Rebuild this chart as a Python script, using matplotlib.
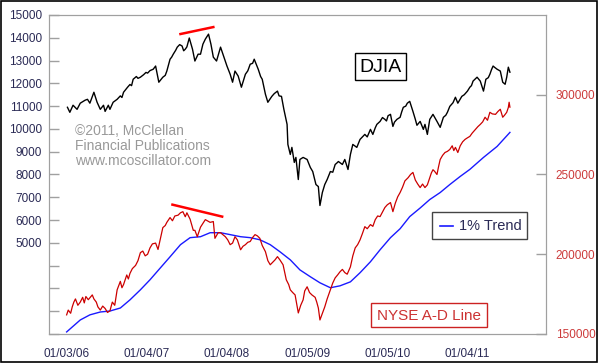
import numpy as np
import matplotlib.pyplot as plt
from matplotlib.patches import Rectangle
from matplotlib.lines import Line2D

plt.rcParams['font.family'] = ['Liberation Sans', 'DejaVu Sans']

# DJIA (decimal year, close)
djia_t = [2006.02, 2006.05, 2006.09, 2006.14, 2006.18, 2006.24, 2006.27, 2006.30, 2006.35, 2006.39,
          2006.43, 2006.47, 2006.49, 2006.53, 2006.55, 2006.59, 2006.64, 2006.68, 2006.70, 2006.72,
          2006.77, 2006.80, 2006.82, 2006.84, 2006.88, 2006.90, 2006.93, 2006.97, 2007.00, 2007.02,
          2007.05, 2007.09, 2007.12, 2007.16, 2007.21, 2007.24, 2007.26, 2007.30, 2007.32, 2007.34,
          2007.37, 2007.39, 2007.42, 2007.45, 2007.47, 2007.49, 2007.51, 2007.54, 2007.58, 2007.61,
          2007.65, 2007.68, 2007.71, 2007.74, 2007.78, 2007.81, 2007.84, 2007.88, 2007.93, 2007.96,
          2008.01, 2008.05, 2008.08, 2008.11, 2008.15, 2008.19, 2008.24, 2008.27, 2008.30, 2008.33,
          2008.35, 2008.40, 2008.43, 2008.45, 2008.49, 2008.52, 2008.57, 2008.60, 2008.64, 2008.66,
          2008.69, 2008.72, 2008.76, 2008.77, 2008.80, 2008.82, 2008.85, 2008.87, 2008.90, 2008.92,
          2008.96, 2009.01, 2009.05, 2009.08, 2009.12, 2009.15, 2009.17, 2009.20, 2009.23, 2009.26,
          2009.30, 2009.33, 2009.36, 2009.38, 2009.40, 2009.45, 2009.48, 2009.52, 2009.55, 2009.58,
          2009.63, 2009.67, 2009.73, 2009.76, 2009.80, 2009.83, 2009.86, 2009.88, 2009.92, 2009.95,
          2009.98, 2010.00, 2010.02, 2010.05, 2010.08, 2010.10, 2010.13, 2010.17, 2010.19, 2010.21,
          2010.24, 2010.26, 2010.29, 2010.33, 2010.36, 2010.38, 2010.42, 2010.46, 2010.48, 2010.51,
          2010.54, 2010.58, 2010.63, 2010.67, 2010.71, 2010.74, 2010.76, 2010.79, 2010.83, 2010.86,
          2010.89, 2010.91, 2010.94, 2010.97, 2011.01, 2011.04, 2011.06, 2011.08, 2011.11, 2011.13,
          2011.17, 2011.21, 2011.24, 2011.27, 2011.29, 2011.31, 2011.33, 2011.35, 2011.38, 2011.42,
          2011.45, 2011.48, 2011.50, 2011.52, 2011.54]
djia = [10950, 10730, 11040, 10860, 11130, 11260, 11300, 11130, 11610, 11170,
        10860, 11040, 10770, 11040, 10860, 11170, 11300, 11450, 11380, 11610,
        11830, 11950, 11900, 12180, 12300, 12220, 12270, 12380, 12480, 12450,
        12560, 12620, 12760, 12050, 12270, 12350, 12540, 13060, 13150, 13280,
        13450, 13590, 13700, 13640, 13430, 13500, 13600, 13990, 13500, 12980,
        13280, 13280, 13720, 13940, 14160, 13720, 13150, 12980, 13590, 13280,
        12760, 12400, 12050, 12540, 12320, 11830, 12400, 12550, 12840, 12880,
        13060, 12620, 12300, 12180, 11520, 11170, 11430, 11550, 11660, 11450,
        11430, 10860, 10200, 9320, 8880, 9190, 8530, 8750, 7780, 8660,
        8750, 8660, 8310, 8130, 7560, 7470, 6640, 7210, 7560, 7780,
        8130, 8100, 8440, 8500, 8570, 8440, 8660, 8220, 8880, 9320,
        9190, 9540, 9760, 9650, 9980, 9760, 10050, 10200, 10330, 10500,
        10420, 10350, 10580, 10640, 10110, 10300, 10420, 10510, 10750, 10950,
        11000, 11130, 11210, 10770, 10420, 10160, 10330, 9980, 10200, 9760,
        10420, 10640, 10330, 10070, 10510, 10600, 10730, 10990, 11150, 11390,
        11130, 11250, 11430, 11500, 11660, 11830, 11900, 12100, 12200, 12270,
        12100, 11660, 12180, 12250, 12400, 12600, 12760, 12700, 12620, 12540,
        12050, 11960, 12270, 12710, 12490]

# NYSE A-D line
ad_t = [2006.01, 2006.03, 2006.06, 2006.08, 2006.10, 2006.12, 2006.15, 2006.18, 2006.21, 2006.23,
        2006.25, 2006.28, 2006.33, 2006.35, 2006.38, 2006.40, 2006.43, 2006.46, 2006.49, 2006.52,
        2006.55, 2006.58, 2006.61, 2006.64, 2006.68, 2006.70, 2006.72, 2006.76, 2006.78, 2006.80,
        2006.83, 2006.87, 2006.90, 2006.93, 2006.96, 2006.99, 2007.02, 2007.05, 2007.08, 2007.12,
        2007.15, 2007.18, 2007.21, 2007.24, 2007.26, 2007.30, 2007.33, 2007.36, 2007.40, 2007.43,
        2007.46, 2007.49, 2007.51, 2007.55, 2007.59, 2007.61, 2007.64, 2007.68, 2007.74, 2007.80,
        2007.84, 2007.86, 2007.90, 2007.93, 2007.99, 2008.02, 2008.05, 2008.08, 2008.11, 2008.14,
        2008.18, 2008.21, 2008.24, 2008.27, 2008.30, 2008.33, 2008.36, 2008.39, 2008.42, 2008.45,
        2008.49, 2008.52, 2008.55, 2008.58, 2008.61, 2008.64, 2008.67, 2008.71, 2008.75, 2008.78,
        2008.80, 2008.83, 2008.86, 2008.90, 2008.93, 2008.96, 2008.98, 2009.01, 2009.04, 2009.07,
        2009.11, 2009.13, 2009.15, 2009.17, 2009.20, 2009.23, 2009.26, 2009.30, 2009.33, 2009.36,
        2009.39, 2009.42, 2009.45, 2009.48, 2009.51, 2009.55, 2009.58, 2009.61, 2009.64, 2009.67,
        2009.70, 2009.73, 2009.76, 2009.80, 2009.83, 2009.86, 2009.89, 2009.92, 2009.95, 2009.98,
        2010.01, 2010.05, 2010.08, 2010.11, 2010.14, 2010.17, 2010.20, 2010.23, 2010.27, 2010.30,
        2010.33, 2010.36, 2010.39, 2010.42, 2010.45, 2010.48, 2010.51, 2010.54, 2010.56, 2010.58,
        2010.60, 2010.63, 2010.65, 2010.67, 2010.70, 2010.73, 2010.76, 2010.79, 2010.82, 2010.84,
        2010.86, 2010.89, 2010.92, 2010.95, 2010.98, 2011.01, 2011.04, 2011.07, 2011.11, 2011.14,
        2011.17, 2011.20, 2011.23, 2011.26, 2011.29, 2011.32, 2011.36, 2011.39, 2011.42, 2011.45,
        2011.47, 2011.50, 2011.52, 2011.53, 2011.54]
ad = [162000, 165000, 163000, 167000, 170000, 172000, 168000, 170000, 173000, 169500,
      173500, 171500, 174500, 172000, 170000, 167000, 165000, 167500, 166000, 163500,
      164500, 170000, 168000, 177700, 183000, 179000, 181000, 187000, 184500, 188000,
      191000, 193000, 196000, 201000, 202000, 199000, 200000, 204000, 206500, 207000,
      203000, 210000, 216700, 218000, 220000, 223000, 221000, 224000, 224500, 226000,
      226700, 223500, 226000, 222000, 215000, 215000, 211000, 217000, 221700, 220000,
      220500, 210000, 213500, 213500, 211000, 209000, 206000, 207000, 211000, 209000,
      202800, 205000, 206000, 207500, 208000, 210500, 212300, 211500, 210000, 205500,
      201600, 196000, 193400, 195000, 196500, 198500, 196500, 193400, 184000, 181000,
      177700, 176000, 174500, 163200, 168000, 171400, 177000, 179600, 176000, 174500,
      173000, 170000, 166300, 158800, 163000, 167000, 172000, 177700, 182000, 185200,
      187000, 189000, 190500, 188500, 187500, 192100, 199000, 204000, 206000, 209000,
      213000, 217300, 216000, 218600, 217500, 221700, 224000, 223600, 226500, 229300,
      231000, 232400, 226700, 232000, 236000, 238700, 242000, 246000, 248000, 250000,
      251300, 246500, 244000, 241800, 244000, 241800, 243500, 248000, 251000, 253000,
      252000, 250000, 255000, 259400, 262000, 263800, 264500, 265700, 268000, 265000,
      267000, 263800, 268000, 270500, 272000, 273000, 273900, 276000, 278300, 280000,
      281400, 283000, 285900, 284000, 289000, 288000, 287700, 289500, 290900, 285900,
      287000, 289000, 292000, 295300, 292200]

# 1% trend of the A-D line
trend_t = [2006.01, 2006.18, 2006.30, 2006.43, 2006.55, 2006.68, 2006.80, 2006.93, 2007.05, 2007.18,
           2007.30, 2007.43, 2007.55, 2007.68, 2007.80, 2007.93, 2008.05, 2008.18, 2008.30, 2008.42,
           2008.55, 2008.67, 2008.80, 2008.92, 2009.05, 2009.17, 2009.30, 2009.42, 2009.55, 2009.67,
           2009.80, 2009.92, 2010.05, 2010.17, 2010.29, 2010.42, 2010.54, 2010.67, 2010.79, 2010.92,
           2011.04, 2011.21, 2011.38, 2011.54]
trend = [151300, 158800, 162000, 163800, 164400, 166300, 171400, 177700, 184000, 191500,
         198400, 206000, 210400, 211000, 213500, 213500, 212300, 211000, 210400, 209100,
         206000, 201600, 196500, 190200, 185900, 182100, 179000, 180200, 182700, 188400,
         195300, 202800, 210400, 216000, 223600, 229000, 234300, 238700, 243700, 248800,
         253200, 260700, 267600, 276400]

# divergence lines
djia_div_t = [2007.43, 2007.84]
djia_div = [14165, 14470]
ad_div_t = [2007.33, 2007.95]
ad_div = [231100, 223600]

tick_t = [2006.005, 2007.008, 2008.008, 2009.011, 2010.011, 2011.008]
tick_lab = ['01/03/06', '01/04/07', '01/04/08', '01/05/09', '01/05/10', '01/04/11']

navy = '#2a2a55'
grey = '#a0a0a0'

fig = plt.figure(figsize=(6, 3.64), dpi=100)
ax = fig.add_axes([49/600, 30/364, 497/600, 319/364])
ax2 = ax.twinx()

ax.plot(djia_t, djia, color='black', lw=1.0)
ax.plot(djia_div_t, djia_div, color='#ff0000', lw=1.8)
ax2.plot(trend_t, trend, color='#1a1aff', lw=1.0)
ax2.plot(ad_t, ad, color='#cc0000', lw=0.9)
ax2.plot(ad_div_t, ad_div, color='#ff0000', lw=1.8)

ax.set_xlim(2005.79, 2011.99)
ax.set_ylim(1000, 15000)
ax2.set_ylim(150000, 350000)

ax.set_yticks(np.arange(1000, 15001, 1000))
ax.set_yticklabels([str(v) if v >= 5000 else '' for v in range(1000, 15001, 1000)])
ax2.set_yticks([150000, 200000, 250000, 300000])
ax2.set_yticklabels(['150000', '200000', '250000', '300000'])
ax.set_xticks(tick_t)
ax.set_xticklabels(tick_lab)

ax.tick_params(axis='y', direction='in', length=7, width=1, color=grey,
               labelcolor=navy, labelsize=8.5, pad=5)
ax2.tick_params(axis='y', direction='in', length=7, width=1, color=grey,
                labelcolor='#cc3a3a', labelsize=8.5, pad=7)
ax.tick_params(axis='x', length=0, labelcolor=navy, labelsize=8.5, pad=10)

for a in (ax, ax2):
    for s in a.spines.values():
        s.set_color(grey)

def fx(px):
    return px / 600

def fy(py):
    return 1 - py / 364

fig.text(fx(75), fy(124), '©2011, McClellan\nFinancial Publications\nwww.mcoscillator.com',
         color='#999999', fontsize=10, va='top', ha='left', linespacing=1.1)

# DJIA label box
fig.add_artist(Rectangle((fx(355), fy(80)), fx(51), 27/364, transform=fig.transFigure,
                         facecolor='white', edgecolor='black', lw=1))
fig.text(fx(380.5), fy(67), 'DJIA', fontsize=14, ha='center', va='center', color='black')

# 1% Trend legend box
fig.add_artist(Rectangle((fx(432), fy(239)), fx(95), 27/364, transform=fig.transFigure,
                         facecolor='white', edgecolor='#444444', lw=1))
fig.add_artist(Line2D([fx(440), fx(453)], [fy(226), fy(226)], transform=fig.transFigure,
                      color='#1a1aff', lw=1.2))
fig.text(fx(459), fy(226), '1% Trend', fontsize=10.5, ha='left', va='center', color=navy)

# NYSE A-D Line box
fig.add_artist(Rectangle((fx(371), fy(327)), fx(116), 24/364, transform=fig.transFigure,
                         facecolor='white', edgecolor='#cc2222', lw=1))
fig.text(fx(429), fy(315.5), 'NYSE A-D Line', fontsize=11, ha='center', va='center', color='#cc3333')

# outer frame
fig.add_artist(Rectangle((fx(1), fy(362)), fx(596), 361/364, transform=fig.transFigure,
                         facecolor='none', edgecolor='black', lw=1.2))

fig.savefig('out.png', dpi=100)
